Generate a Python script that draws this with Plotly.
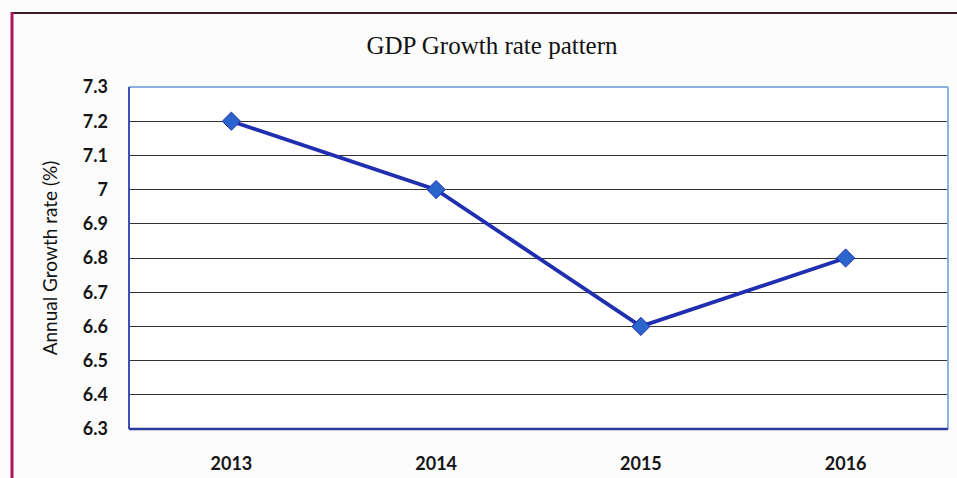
import plotly.graph_objects as go

years = ["2013", "2014", "2015", "2016"]
growth = [7.2, 7.0, 6.6, 6.8]
y_ticks = [6.3, 6.4, 6.5, 6.6, 6.7, 6.8, 6.9, 7.0, 7.1, 7.2, 7.3]
y_labels = ["6.3", "6.4", "6.5", "6.6", "6.7", "6.8", "6.9", "7", "7.1", "7.2", "7.3"]

W, H = 957, 478
L, R, T, B = 129, 9, 87, 49
pw, ph = W - L - R, H - T - B


def px_x(x):
    return (x - L) / pw


def px_y(y):
    return (H - B - y) / ph


fig = go.Figure()
fig.add_trace(go.Scatter(
    x=years, y=growth, mode="lines+markers",
    line=dict(color="#1f2fb0", width=3.8),
    marker=dict(symbol="diamond", size=14, color="#2a64cc",
                line=dict(color="#1f2fb0", width=1)),
    showlegend=False, cliponaxis=False,
))

shapes = [
    # plot-area frame
    dict(type="line", xref="paper", yref="paper", x0=0, x1=1, y0=1, y1=1,
         line=dict(color="#8db0dc", width=2)),
    dict(type="line", xref="paper", yref="paper", x0=1, x1=1, y0=0, y1=1,
         line=dict(color="#8db0dc", width=2)),
    dict(type="line", xref="paper", yref="paper", x0=0, x1=0, y0=0, y1=1,
         line=dict(color="#3b50b8", width=2)),
    dict(type="line", xref="paper", yref="paper", x0=0, x1=1, y0=0, y1=0,
         line=dict(color="#2b3a9c", width=2.5)),
    # outer chart frame: dark top rule and crimson left rule
    dict(type="rect", xref="paper", yref="paper",
         x0=px_x(12), x1=px_x(957), y0=px_y(14), y1=px_y(12),
         fillcolor="#3a1a2a", line=dict(width=0)),
    dict(type="rect", xref="paper", yref="paper",
         x0=px_x(10.5), x1=px_x(13.5), y0=px_y(H), y1=px_y(12),
         fillcolor="#b0145a", line=dict(width=0)),
]

fig.update_layout(
    width=W, height=H,
    margin=dict(l=L, r=R, t=T, b=B),
    paper_bgcolor="#fcfcfc", plot_bgcolor="#ffffff",
    shapes=shapes,
    title=dict(text="GDP Growth rate pattern", x=px_x(492), xref="paper",
               xanchor="center", y=1 - 45 / H, yanchor="middle",
               font=dict(family="Liberation Serif", size=25, color="#111111")),
    xaxis=dict(type="category", range=[-0.5, 3.5], showgrid=False, showline=False,
               zeroline=False, ticks="", ticklabelstandoff=22, automargin=False,
               tickfont=dict(family="Lato", size=18, color="#151515", weight="bold")),
    yaxis=dict(range=[6.3, 7.3], tickmode="array", tickvals=y_ticks, ticktext=y_labels,
               showgrid=True, gridcolor="#333333", gridwidth=1.3, zeroline=False,
               showline=False, ticks="", ticklabelstandoff=20, automargin=False,
               tickfont=dict(family="Lato", size=18, color="#151515", weight="bold"),
               title=dict(text="Annual Growth rate (%)", standoff=20,
                          font=dict(family="Lato", size=19, color="#111111"))),
)

fig.write_html("out.html")
